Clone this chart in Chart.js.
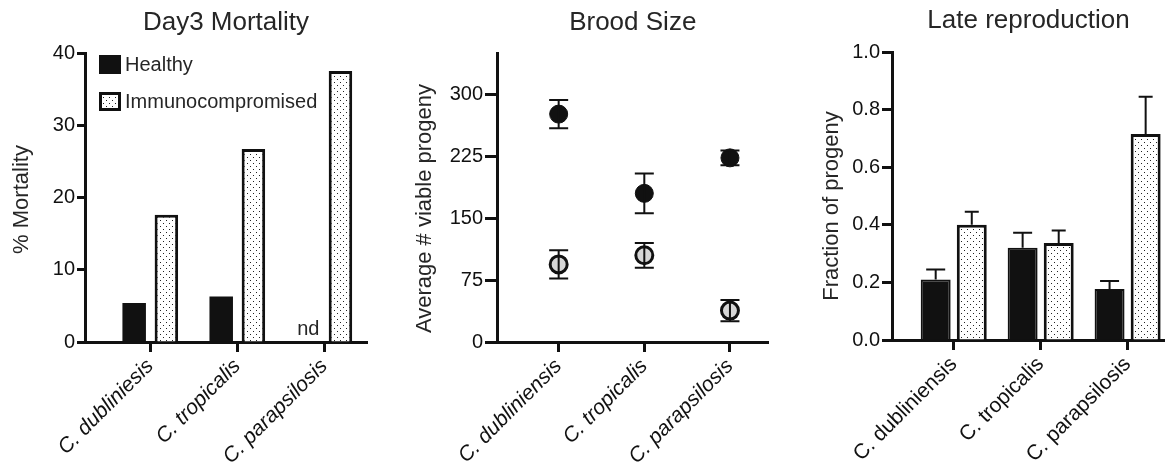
<!DOCTYPE html>
<html>
<head>
<meta charset="utf-8">
<script src="https://cdn.jsdelivr.net/npm/chart.js@4.4.1/dist/chart.umd.min.js"></script>
<style>
  html, body { margin: 0; padding: 0; background: #fff; }
  #wrap { position: relative; width: 1165px; height: 472px; }
  canvas { position: absolute; top: 0; }
</style>
</head>
<body>
<div id="wrap">
  <canvas id="mortality" width="390" height="472" style="left:0"></canvas>
  <canvas id="brood" width="390" height="472" style="left:390px"></canvas>
  <canvas id="late" width="385" height="472" style="left:780px"></canvas>
</div>
<script>
// ── data ────────────────────────────────────────────────────────────────────
const groups = ['Healthy', 'Immunocompromised'];
const mortSpecies = ['C. dubliniesis', 'C. tropicalis', 'C. parapsilosis'];
const species = ['C. dubliniensis', 'C. tropicalis', 'C. parapsilosis'];

// Day3 mortality (%), healthy value for C. parapsilosis not determined (nd)
const mortHealthy = [5.4, 6.3, null];
const mortImmuno  = [17.6, 26.7, 37.5];
const mortTicks   = [0, 10, 20, 30, 40];

// Brood size (mean ± error)
const broodHealthy    = [276, 180, 223];
const broodHealthyErr = [17, 24, 9];
const broodImmuno     = [94, 105, 38];
const broodImmunoErr  = [17, 15, 13];
const broodTicks      = [0, 75, 150, 225, 300];

// Late reproduction (fraction, upper error only)
const lateHealthy    = [0.21, 0.32, 0.177];
const lateHealthyErr = [0.035, 0.052, 0.028];
const lateImmuno     = [0.40, 0.337, 0.715];
const lateImmunoErr  = [0.045, 0.043, 0.13];
const lateTicks      = [0, 0.2, 0.4, 0.6, 0.8, 1.0];

// ── shared style ────────────────────────────────────────────────────────────
const FONT = "'Liberation Sans', Arial, Helvetica, sans-serif";
const INK = '#111';
const TXT = '#262626';
Chart.defaults.font.family = FONT;
Chart.defaults.color = INK;

function dots(canvas) {
  const tile = document.createElement('canvas');
  tile.width = 6; tile.height = 6;
  const g = tile.getContext('2d');
  g.fillStyle = '#fff'; g.fillRect(0, 0, 6, 6);
  g.fillStyle = '#222';
  g.fillRect(1, 1, 1, 1); g.fillRect(4, 4, 1, 1);
  return canvas.getContext('2d').createPattern(tile, 'repeat');
}

const pts = arr => arr.map((v, i) => ({ x: i, y: v }));

// title centred over the plot area, not the whole canvas
function title(text, top) {
  return { display: true, fullSize: false, text, color: TXT, font: { size: 26, weight: 'normal' },
           padding: { top, bottom: 53 - top - 31.2 } };
}

function xAxis(labels, min, max, height, italic) {
  return {
    type: 'linear', min, max, offset: false,
    afterBuildTicks: s => { s.ticks = labels.map((_, i) => ({ value: i })); },
    afterFit: s => { s.height = height; s.paddingLeft = 0; s.paddingRight = 0; },
    border: { color: INK, width: 3 },
    grid: { drawOnChartArea: false, offset: false, color: INK, tickLength: 10, tickWidth: 3 },
    ticks: { callback: v => labels[v], autoSkip: false, minRotation: 45, maxRotation: 45, padding: 2,
             font: { size: 21, style: italic ? 'italic' : 'normal' } }
  };
}

function yAxis(min, max, ticks, fmt, width, tickLen) {
  return {
    min, max,
    afterBuildTicks: s => { s.ticks = ticks.map(v => ({ value: v })); },
    afterFit: s => { s.width = width; s.paddingTop = 0; s.paddingBottom = 0; },
    border: { color: INK, width: 3 },
    grid: { drawOnChartArea: false, color: INK, tickLength: tickLen, tickWidth: 3 },
    ticks: { callback: fmt, padding: 2, font: { size: 20 } }
  };
}

const baseOpts = { animation: false, responsive: false, events: [] };

// vertical axis title, GraphPad places it a little below the plot centre
const yTitle = {
  id: 'yTitle',
  afterDraw(chart, args, o) {
    const { ctx, chartArea } = chart;
    ctx.save();
    ctx.translate(o.x, (chartArea.top + chartArea.bottom) / 2 + o.shift);
    ctx.rotate(-Math.PI / 2);
    ctx.font = `22px ${FONT}`;
    ctx.fillStyle = TXT;
    ctx.textAlign = 'center';
    ctx.textBaseline = 'middle';
    ctx.fillText(o.text, 0, 0);
    ctx.restore();
  }
};

// error bars drawn from the error arrays
const errorBars = {
  id: 'errorBars',
  afterDatasetsDraw(chart, args, opts) {
    if (!opts.errors) return;
    const { ctx, scales: { y } } = chart;
    ctx.save();
    ctx.strokeStyle = INK;
    ctx.lineWidth = 2;
    opts.errors.forEach((errs, di) => {
      const meta = chart.getDatasetMeta(di);
      const half = opts.caps[di] / 2;
      meta.data.forEach((el, i) => {
        const v = chart.data.datasets[di].data[i].y;
        if (v == null) return;
        const hi = y.getPixelForValue(v + errs[i]);
        const lo = y.getPixelForValue(opts.upOnly ? v : v - errs[i]);
        ctx.beginPath();
        ctx.moveTo(el.x, lo); ctx.lineTo(el.x, hi);
        ctx.moveTo(el.x - half, hi); ctx.lineTo(el.x + half, hi);
        if (!opts.upOnly) { ctx.moveTo(el.x - half, lo); ctx.lineTo(el.x + half, lo); }
        ctx.stroke();
      });
    });
    ctx.restore();
  }
};

// legend boxes inside the plot area (panel 1)
const boxLegend = {
  id: 'boxLegend',
  afterDraw(chart) {
    const { ctx, chartArea } = chart;
    ctx.save();
    ctx.font = `20px ${FONT}`;
    ctx.textBaseline = 'middle';
    chart.data.datasets.forEach((ds, i) => {
      const bx = chartArea.left + 14, by = chartArea.top + 2 + i * 37;
      ctx.fillStyle = ds.backgroundColor;
      ctx.fillRect(bx, by, 22, 19);
      ctx.lineWidth = 3;
      ctx.strokeStyle = INK;
      ctx.strokeRect(bx + 1.5, by + 1.5, 19, 16);
      ctx.fillStyle = TXT;
      ctx.fillText(ds.label, bx + 26, by + 10);
    });
    ctx.restore();
  }
};

// "nd" where the healthy value is missing
const ndLabel = {
  id: 'ndLabel',
  afterDatasetsDraw(chart) {
    const { ctx, scales: { x, y } } = chart;
    const meta = chart.getDatasetMeta(0);
    const off = meta.data[0].x - x.getPixelForValue(0);
    ctx.save();
    ctx.font = `20px ${FONT}`;
    ctx.fillStyle = TXT;
    ctx.textAlign = 'center';
    mortHealthy.forEach((v, i) => {
      if (v !== null) return;
      ctx.fillText('nd', x.getPixelForValue(i) + off, y.getPixelForValue(0) - 7);
    });
    ctx.restore();
  }
};

// ── Day3 Mortality ──────────────────────────────────────────────────────────
const c1 = document.getElementById('mortality');
new Chart(c1, {
  type: 'bar',
  data: {
    datasets: [
      { label: groups[0], data: pts(mortHealthy), backgroundColor: INK, borderWidth: 0,
        categoryPercentage: 0.74, barPercentage: 0.73 },
      { label: groups[1], data: pts(mortImmuno), backgroundColor: dots(c1), borderColor: INK, borderWidth: 3,
        categoryPercentage: 0.74, barPercentage: 0.73 }
    ]
  },
  options: {
    ...baseOpts,
    layout: { padding: { right: 23 } },
    plugins: {
      legend: { display: false }, tooltip: { enabled: false }, title: title('Day3 Mortality', 7),
      yTitle: { text: '% Mortality', x: 22, shift: 2 }
    },
    scales: {
      x: xAxis(mortSpecies, -0.75, 2.49, 130, true),
      y: yAxis(0, 40, mortTicks, v => v, 85, 8)
    }
  },
  plugins: [boxLegend, ndLabel, yTitle]
});

// ── Brood Size ──────────────────────────────────────────────────────────────
new Chart(document.getElementById('brood'), {
  type: 'scatter',
  data: {
    datasets: [
      { label: groups[0], data: pts(broodHealthy), pointRadius: 9, backgroundColor: INK, borderColor: INK, borderWidth: 1 },
      { label: groups[1], data: pts(broodImmuno), pointRadius: 8.5, backgroundColor: '#d6d6d6', borderColor: INK, borderWidth: 3 }
    ]
  },
  options: {
    ...baseOpts,
    layout: { padding: { right: 7 } },
    plugins: {
      legend: { display: false }, tooltip: { enabled: false }, title: title('Brood Size', 7),
      errorBars: { errors: [broodHealthyErr, broodImmunoErr], caps: [19, 19], upOnly: false },
      yTitle: { text: 'Average # viable progeny', x: 35, shift: 11 }
    },
    scales: {
      x: xAxis(species, -0.72, 2.45, 130, true),
      y: yAxis(0, 350, broodTicks, v => v, 107, 12)
    }
  },
  plugins: [errorBars, yTitle]
});

// ── Late reproduction ───────────────────────────────────────────────────────
const c3 = document.getElementById('late');
new Chart(c3, {
  type: 'bar',
  data: {
    datasets: [
      { label: groups[0], data: pts(lateHealthy), backgroundColor: INK, borderColor: INK, borderWidth: 2,
        categoryPercentage: 0.83, barPercentage: 0.83 },
      { label: groups[1], data: pts(lateImmuno), backgroundColor: dots(c3), borderColor: INK, borderWidth: 3,
        categoryPercentage: 0.83, barPercentage: 0.83 }
    ]
  },
  options: {
    ...baseOpts,
    layout: { padding: { right: 0 } },
    plugins: {
      legend: { display: false }, tooltip: { enabled: false },
      title: { ...title('Late reproduction', 5), padding: { top: 5, bottom: 15.8 } },
      errorBars: { errors: [lateHealthyErr, lateImmunoErr], caps: [19, 14], upOnly: true },
      yTitle: { text: 'Fraction of progeny', x: 52, shift: 10 }
    },
    scales: {
      x: xAxis(species, -0.71, 2.43, 132, false),
      y: yAxis(0, 1, lateTicks, v => v.toFixed(1), 112, 10)
    }
  },
  plugins: [errorBars, yTitle]
});
</script>
</body>
</html>
